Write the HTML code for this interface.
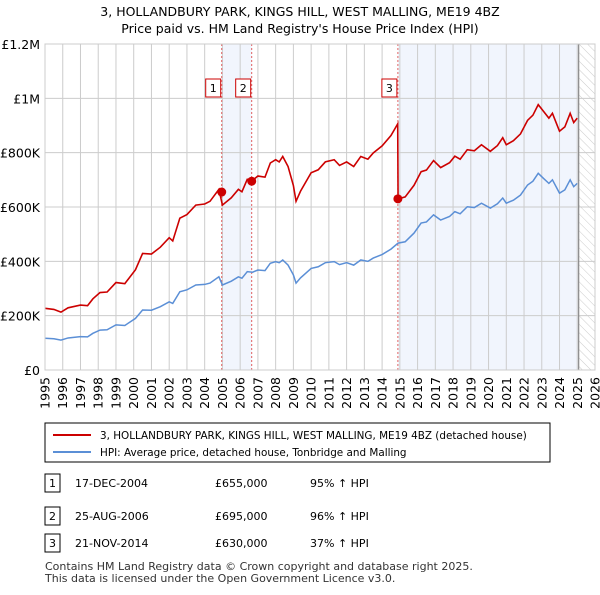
<!DOCTYPE html>
<html><head><meta charset="utf-8"><style>
body{margin:0;background:#fff;font-family:"Liberation Sans","DejaVu Sans",sans-serif;}
svg text{font-family:"DejaVu Sans","Liberation Sans",sans-serif;}
</style></head><body>
<svg id="c" width="600" height="590" xmlns="http://www.w3.org/2000/svg">
<defs><pattern id="hatch" width="6" height="6" patternUnits="userSpaceOnUse" patternTransform="rotate(-45)"><line x1="0" y1="0" x2="0" y2="6" stroke="#ccc" stroke-width="1"/></pattern></defs>
<text x="300" y="16" text-anchor="middle" font-size="12.5">3, HOLLANDBURY PARK, KINGS HILL, WEST MALLING, ME19 4BZ</text>
<text x="300" y="33" text-anchor="middle" font-size="12.5">Price paid vs. HM Land Registry's House Price Index (HPI)</text>
<g id="plot"></g>
<rect x="45" y="423" width="505" height="39" fill="#fff" stroke="#000" stroke-width="1"/>
<line x1="53" y1="435" x2="91" y2="435" stroke="#cc0000" stroke-width="2"/>
<text x="100" y="439" font-size="10.4">3, HOLLANDBURY PARK, KINGS HILL, WEST MALLING, ME19 4BZ (detached house)</text>
<line x1="53" y1="452" x2="91" y2="452" stroke="#5b8fd6" stroke-width="2"/>
<text x="100" y="456" font-size="10.4">HPI: Average price, detached house, Tonbridge and Malling</text>
<g id="tbl" font-size="11"></g>
<text x="45" y="570" font-size="11" fill="#333">Contains HM Land Registry data © Crown copyright and database right 2025.</text>
<text x="45" y="582" font-size="11" fill="#333">This data is licensed under the Open Government Licence v3.0.</text>
</svg>
<script>
const hpiDates=[1995.0,1995.5,1995.9,1996.3,1997.0,1997.4,1997.7,1998.1,1998.5,1999.0,1999.5,2000.1,2000.5,2001.0,2001.5,2002.0,2002.2,2002.6,2003.0,2003.5,2004.0,2004.3,2004.8,2005.0,2005.5,2005.9,2006.1,2006.4,2006.7,2007.0,2007.4,2007.7,2008.0,2008.2,2008.4,2008.7,2009.0,2009.15,2009.4,2010.0,2010.4,2010.8,2011.3,2011.6,2012.0,2012.4,2012.8,2013.2,2013.5,2014.0,2014.5,2014.9,2015.3,2015.8,2016.2,2016.5,2016.9,2017.3,2017.8,2018.1,2018.4,2018.8,2019.2,2019.6,2020.1,2020.5,2020.8,2021.0,2021.4,2021.8,2022.2,2022.5,2022.8,2023.1,2023.4,2023.6,2024.0,2024.3,2024.6,2024.8,2025.0];
const hpiValues=[117,115,110,118,123,122,135,147,148,166,164,190,221,220,233,251,245,288,295,313,315,320,343,313,327,343,338,362,360,368,366,393,399,395,405,386,350,320,339,374,380,395,399,388,395,386,405,400,412,425,445,467,472,504,541,545,571,552,565,583,575,601,598,614,596,612,633,614,625,644,681,695,724,705,687,700,651,663,700,675,687];
const redDates=[1995.0,1995.5,1995.9,1996.3,1997.0,1997.4,1997.7,1998.1,1998.5,1999.0,1999.5,2000.1,2000.5,2001.0,2001.5,2002.0,2002.2,2002.6,2003.0,2003.5,2004.0,2004.3,2004.8,2005.0,2005.5,2005.9,2006.1,2006.4,2006.7,2007.0,2007.4,2007.7,2008.0,2008.2,2008.4,2008.7,2009.0,2009.15,2009.4,2010.0,2010.4,2010.8,2011.3,2011.6,2012.0,2012.4,2012.8,2013.2,2013.5,2014.0,2014.5,2014.88,2014.9,2015.3,2015.8,2016.2,2016.5,2016.9,2017.3,2017.8,2018.1,2018.4,2018.8,2019.2,2019.6,2020.1,2020.5,2020.8,2021.0,2021.4,2021.8,2022.2,2022.5,2022.8,2023.1,2023.4,2023.6,2024.0,2024.3,2024.6,2024.8,2025.0];
const redValues=[227,223,213,229,239,237,262,285,287,322,318,369,429,427,452,487,475,559,572,607,611,621,665,607,634,665,656,702,698,714,710,762,774,766,786,749,679,621,658,726,737,766,774,753,766,749,786,776,799,825,863,906,630,637,680,730,736,771,745,763,787,776,811,807,829,805,826,855,829,844,869,919,938,977,952,927,945,879,895,945,911,927];
const saleDates=[2004.96,2006.65,2014.89];
const salePrices=[655,695,630];
const saleLabels=["1","2","3"];
const saleDateText=["17-DEC-2004","25-AUG-2006","21-NOV-2014"];
const salePriceText=["£655,000","£695,000","£630,000"];
const salePctText=["95% ↑ HPI","96% ↑ HPI","37% ↑ HPI"];
const yTicks=[0,200,400,600,800,1000,1200];
const yTickLabels=["£0","£200K","£400K","£600K","£800K","£1M","£1.2M"];
const xYears=[1995,1996,1997,1998,1999,2000,2001,2002,2003,2004,2005,2006,2007,2008,2009,2010,2011,2012,2013,2014,2015,2016,2017,2018,2019,2020,2021,2022,2023,2024,2025,2026];
const dataEnd=2025.08;

const X0=45,X1=595,Y0=370,Y1=44;
const xs=y=>X0+(y-1995)/31*(X1-X0);
const ys=v=>Y0-v/1200*(Y0-Y1);
const NS="http://www.w3.org/2000/svg";
const g=document.getElementById('plot');
function mk(t,a,p){const e=document.createElementNS(NS,t);for(const k in a)e.setAttribute(k,a[k]);(p||g).appendChild(e);return e;}

let r=mk('rect',{x:xs(saleDates[0]),y:Y1,width:xs(saleDates[1])-xs(saleDates[0]),height:Y0-Y1,fill:'#eef3fc',opacity:0.8});


r=mk('rect',{x:xs(saleDates[2]),y:Y1,width:xs(dataEnd)-xs(saleDates[2]),height:Y0-Y1,fill:'#eef3fc',opacity:0.8});


r=mk('rect',{x:xs(dataEnd),y:Y1,width:X1-xs(dataEnd),height:Y0-Y1,fill:'url(#hatch)'});



xYears.forEach(yr=>{const l=mk('line',{x1:xs(yr),x2:xs(yr),y1:Y1,y2:Y0,stroke:'#ccc','stroke-width':1});


const t=mk('text',{x:0,y:0,'font-size':12.5,'text-anchor':'end',transform:`translate(${xs(yr)+4.5},${Y0+7}) rotate(-90)`});t.textContent=yr;

});
yTicks.forEach((v,i)=>{const l=mk('line',{x1:X0,x2:X1,y1:ys(v),y2:ys(v),stroke:'#ccc','stroke-width':1});


const t=mk('text',{x:40,y:ys(v)+5,'font-size':12.5,'text-anchor':'end'});t.textContent=yTickLabels[i];

});
let dl=mk('line',{x1:xs(dataEnd),x2:xs(dataEnd),y1:Y1,y2:Y0,stroke:'#888','stroke-width':1.2});



saleDates.forEach((d,i)=>{const l=mk('line',{x1:xs(d),x2:xs(d),y1:Y1,y2:Y0,stroke:'#e06060','stroke-width':1,'stroke-dasharray':'2,2'});


const b=mk('rect',{x:xs(d)-16,y:79,width:15,height:18,fill:'#fff',stroke:'#cc0000','stroke-width':1});


const t=mk('text',{x:xs(d)-8.5,y:92,'font-size':11,'text-anchor':'middle'});t.textContent=saleLabels[i];

});

let p=mk('polyline',{points:hpiDates.map((d,i)=>xs(d)+','+ys(hpiValues[i])).join(' '),fill:'none',stroke:'#5b8fd6','stroke-width':1.5});


p=mk('polyline',{points:redDates.map((d,i)=>xs(d)+','+ys(redValues[i])).join(' '),fill:'none',stroke:'#cc0000','stroke-width':1.6});


saleDates.forEach((d,i)=>{const c=mk('circle',{cx:xs(d),cy:ys(salePrices[i]),r:4.5,fill:'#cc0000'});

});
let fr=mk('rect',{x:X0,y:Y1,width:X1-X0,height:Y0-Y1,fill:'none',stroke:'#ccc','stroke-width':1});



const tb=document.getElementById('tbl');
const rowY=[486,519,546];
saleLabels.forEach((s,i)=>{const y=rowY[i];
const b=mk('rect',{x:45,y:y-12,width:15,height:18,fill:'#fff',stroke:'#000','stroke-width':1},tb);


[[52.5,s,'middle','table-num'],[75,saleDateText[i],'start','table-date'],[215,salePriceText[i],'start','table-price'],[310,salePctText[i],'start','table-hpi']].forEach(a=>{
const t=mk('text',{x:a[0],y:y+1,'text-anchor':a[2]},tb);t.textContent=a[1];

});});
</script>
</body></html>
